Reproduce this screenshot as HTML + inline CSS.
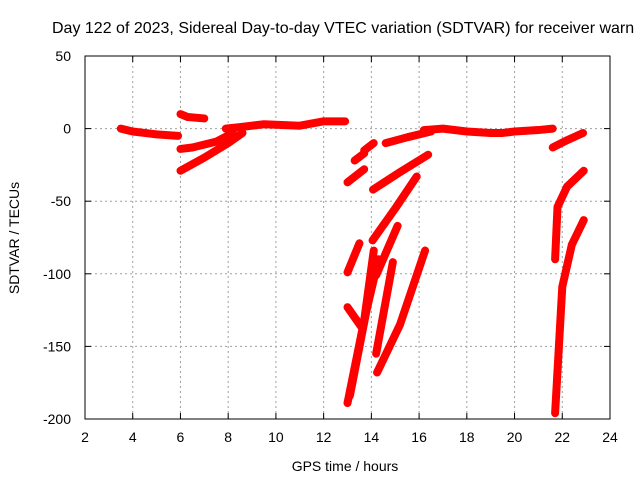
<!DOCTYPE html>
<html><head><meta charset="utf-8"><style>
body{margin:0;background:#fff}
svg text{font-family:"Liberation Sans",sans-serif;font-size:14px;fill:#000}
</style></head><body>
<svg id="chart" width="640" height="480" xmlns="http://www.w3.org/2000/svg">
<text x="52" y="33" style="font-size:16px">Day 122 of 2023, Sidereal Day-to-day VTEC variation (SDTVAR) for receiver warn</text>
<g id="grid"></g>
<g id="series"></g>
<rect x="85" y="56" width="525" height="363" fill="none" stroke="#000" stroke-width="1"/>
<g id="ticks"></g>
<text x="345" y="471" text-anchor="middle">GPS time / hours</text>
<text transform="translate(19,238) rotate(-90)" text-anchor="middle">SDTVAR / TECUs</text>
</svg>
<script>
const xTicks=[2,4,6,8,10,12,14,16,18,20,22,24];
const yTicks=[50,0,-50,-100,-150,-200];
const track1=[[3.5,0],[4,-2],[4.5,-3],[5,-4],[5.9,-5]];
const track2=[[6,10],[6.3,8],[7,7]];
const track3=[[7.9,0],[8.5,1],[9.5,3],[11,2],[12,5],[12.9,5]];
const track4=[[6,-14],[6.5,-13],[7.5,-9],[8.2,-3]];
const track5=[[6,-29],[7,-20],[8,-10],[8.6,-3]];
const track6=[[14.6,-10],[15.5,-6],[16.5,-2]];
const track7=[[16.2,-1],[17,0],[18,-2],[19,-3],[19.5,-3],[20,-2],[21,-1],[21.6,0]];
const track8=[[14.07,-42],[15.2,-30],[16.38,-18]];
const track9=[[14.05,-77],[15,-55],[15.9,-33]];
const track10=[[14.2,-101],[15.1,-67]];
const track11=[[14.24,-168],[15.2,-135],[16.25,-84]];
const track12=[[14.2,-155],[14.9,-92]];
const track13=[[13.0,-189],[13.7,-132],[14.1,-84]];
const track14=[[13.1,-184],[13.8,-125],[14.3,-90]];
const track15=[[13.0,-99],[13.5,-79]];
const track16=[[13.0,-123],[13.6,-137]];
const track17=[[13.0,-37],[13.7,-28]];
const track18=[[13.3,-22],[13.7,-17]];
const track19=[[13.7,-15],[14.1,-10]];
const track20=[[21.6,-13],[22.2,-8],[22.87,-3]];
const track21=[[21.7,-90],[21.8,-54],[22.2,-40],[22.9,-29]];
const track22=[[21.7,-196],[22.0,-109],[22.4,-80],[22.9,-63]];
const tracks=[track1,track2,track3,track4,track5,track6,track7,track8,track9,track10,track11,track12,track13,track14,track15,track16,track17,track18,track19,track20,track21,track22];
const X=h=>85+(h-2)*525/22;
const Y=v=>56+(50-v)*363/250;
const NS="http://www.w3.org/2000/svg";
const grid=document.getElementById('grid'),ticks=document.getElementById('ticks'),ser=document.getElementById('series');
function mk(tag,attrs,parent){const e=document.createElementNS(NS,tag);for(const k in attrs)e.setAttribute(k,attrs[k]);parent.appendChild(e);return e;}
xTicks.forEach(t=>{
  const x=X(t);
  if(t>2&&t<24){const g=mk('line',{x1:x,x2:x,y1:56,y2:419,stroke:'#a0a0a0','stroke-dasharray':'2,3'},grid);
  
  }
  mk('line',{x1:x,x2:x,y1:419,y2:413,stroke:'#000'},ticks);
  mk('line',{x1:x,x2:x,y1:56,y2:62,stroke:'#000'},ticks);
  const l=mk('text',{x:x,y:442,'text-anchor':'middle'},ticks);l.textContent=t;
  
  
});
yTicks.forEach(t=>{
  const y=Y(t);
  if(t<50&&t>-200){const g=mk('line',{x1:85,x2:610,y1:y,y2:y,stroke:'#a0a0a0','stroke-dasharray':'2,3'},grid);
  
  }
  mk('line',{x1:85,x2:91,y1:y,y2:y,stroke:'#000'},ticks);
  mk('line',{x1:604,x2:610,y1:y,y2:y,stroke:'#000'},ticks);
  const l=mk('text',{x:71,y:y+5,'text-anchor':'end'},ticks);l.textContent=t;
  
  
});
tracks.forEach(tr=>{
  const p=mk('polyline',{points:tr.map(d=>X(d[0])+','+Y(d[1])).join(' '),fill:'none',stroke:'#ff0000','stroke-width':8,'stroke-linejoin':'round','stroke-linecap':'round'},ser);
  
  
});
</script>
</body></html>
